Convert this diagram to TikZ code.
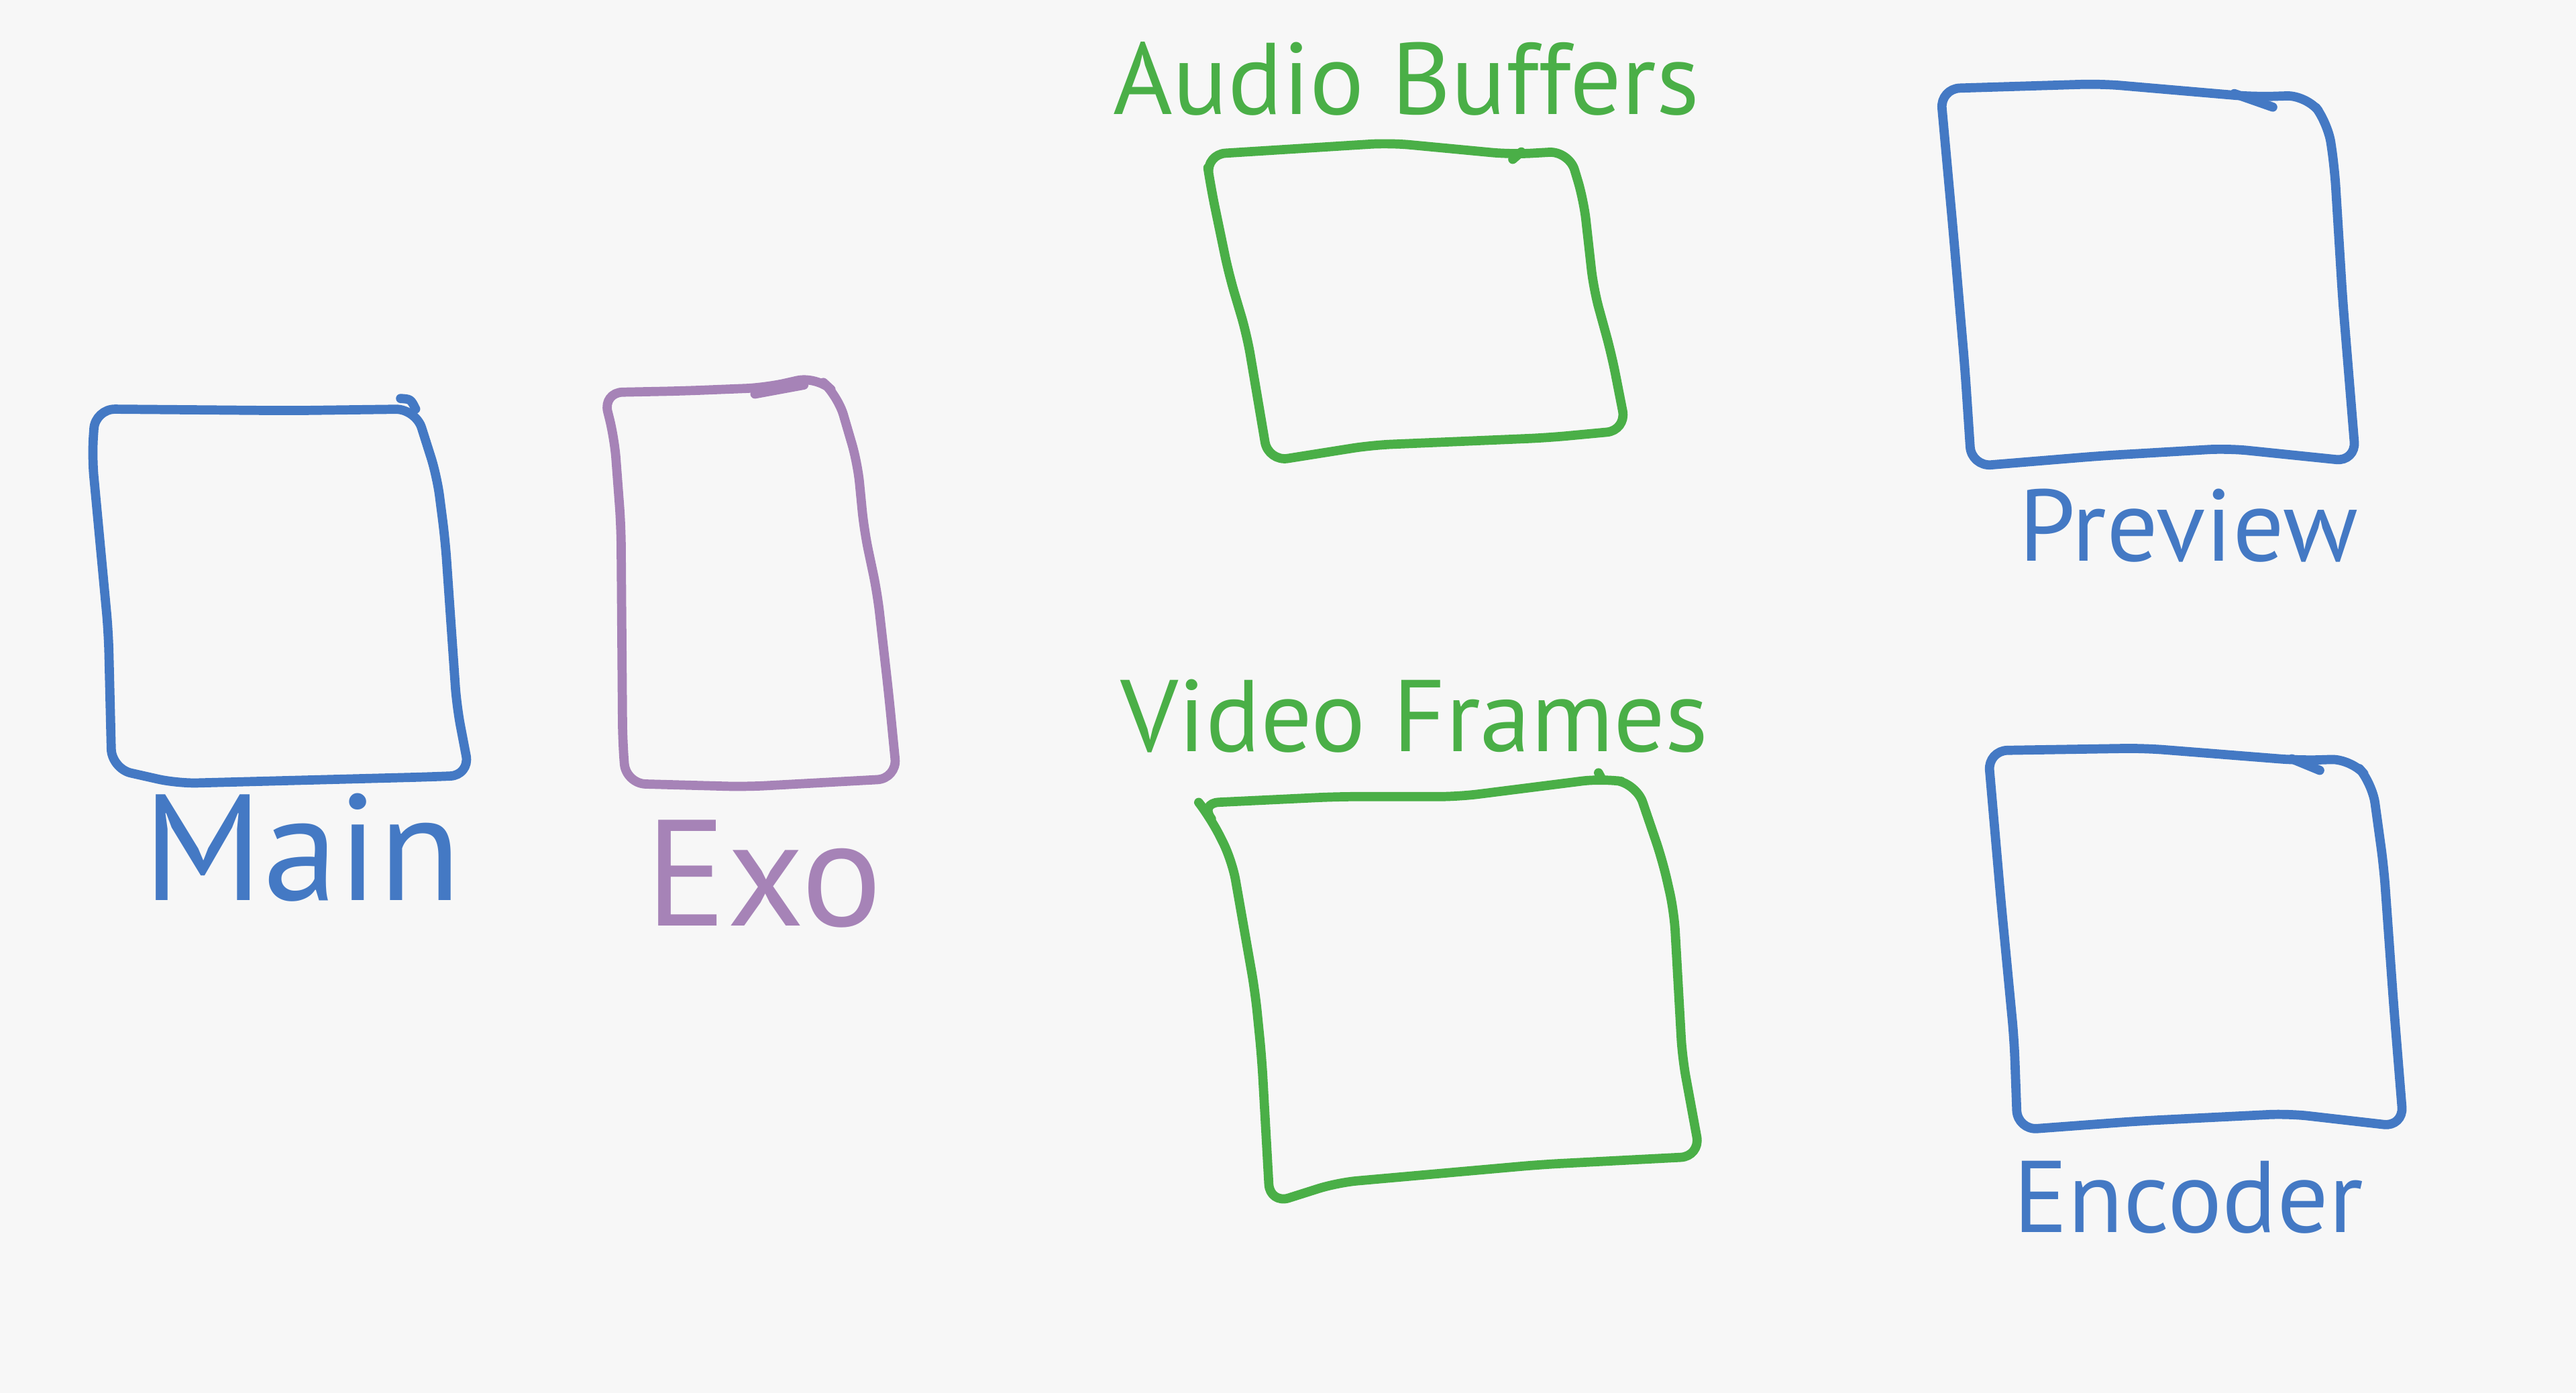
\documentclass[tikz,border=0pt]{standalone}
\usepackage{fontspec}
\setmainfont{PT Sans}
\definecolor{paper}{HTML}{F7F7F7}
\definecolor{penblue}{HTML}{4479C4}
\definecolor{pengreen}{HTML}{4AAF47}
\definecolor{penpurple}{HTML}{A683B7}

\begin{document}
\begin{tikzpicture}[x=0.5pt,y=-0.5pt,line width=2.8pt,line cap=round,line join=round,
  pen/.style={draw=#1,rounded corners=6pt},
  lbl/.style={text=#1,font=\fontsize{31}{36}\selectfont,inner sep=0pt},
  big lbl/.style={lbl=#1,font=\fontsize{46}{52}\selectfont}]
  \fill[paper] (0,0) rectangle (1568,848);

  \draw[pen=penblue] (58,249) -- (176,250) -- (253,249) -- (266,290) -- (271,329) -- (278,430) -- (286,472) -- (261,473) -- (108,477) -- (68,468) -- (66,385) -- (56,278) -- cycle;
  \draw[penblue] (243.8,242.6) .. controls (250,243) .. (253,249);
  \node[big lbl=penblue] (main) at (184,516) {Main};

  \draw[pen=penpurple] (367,239) -- (416,238) -- (466,236) -- (497,229) -- (510,241) -- (522,282) -- (526,323) -- (534,361) -- (541,423) -- (546,474) -- (454,479) -- (381,477) -- (379,452) -- (378,320) -- (374,267) -- cycle;
  \draw[penpurple] (459.5,239.9) -- (489.3,234.4);
  \node[big lbl=penpurple] (exo) at (465,532) {Exo};

  \node[lbl=pengreen] (audio) at (856,48) {Audio Buffers};
  \draw[pen=pengreen] (734,94) -- (846,87) -- (920,94) -- (955,92) -- (964,122) -- (970,176) -- (981,216) -- (990,262) -- (942,266.5) -- (835,271) -- (772,281) -- (759,204) -- (748,167) -- (737,114) -- cycle;
  \draw[pengreen] (920.8,97) -- (926,92.5);

  \node[lbl=pengreen] (video) at (861,436) {Video Frames};
  \draw[pen=pengreen] (730,489) -- (814,485) -- (888,485) -- (975,474) -- (996,477) -- (1012,524) -- (1019,555) -- (1024,644) -- (1035,704) -- (938,709) -- (814,720) -- (773,733) -- (768,644) -- (764,604) -- (750,524) -- (737,498) -- cycle;
  \draw[pengreen] (973,470.5) -- (975,474.3);

  \draw[pen=penblue] (1181,54) -- (1279,51) -- (1372,59) -- (1404,58) -- (1417,75) -- (1421,102) -- (1426,183) -- (1434,281) -- (1356,273) -- (1279,277.5) -- (1200,284) -- (1196,224) -- (1189,142) -- cycle;
  \draw[penblue] (1360,57) -- (1383.4,65.2);
  \node[lbl=penblue] (preview) at (1332,320) {Preview};

  \draw[pen=penblue] (1210,457) -- (1305,455.5) -- (1400,463) -- (1431,462) -- (1444,477) -- (1451,528) -- (1457,612) -- (1463,686) -- (1393,678) -- (1302,682.5) -- (1228,688) -- (1226,633) -- (1218,549) -- cycle;
  \draw[penblue] (1395,462) -- (1412,469);
  \node[lbl=penblue] (encoder) at (1332,729) {Encoder};
\end{tikzpicture}
\end{document}
